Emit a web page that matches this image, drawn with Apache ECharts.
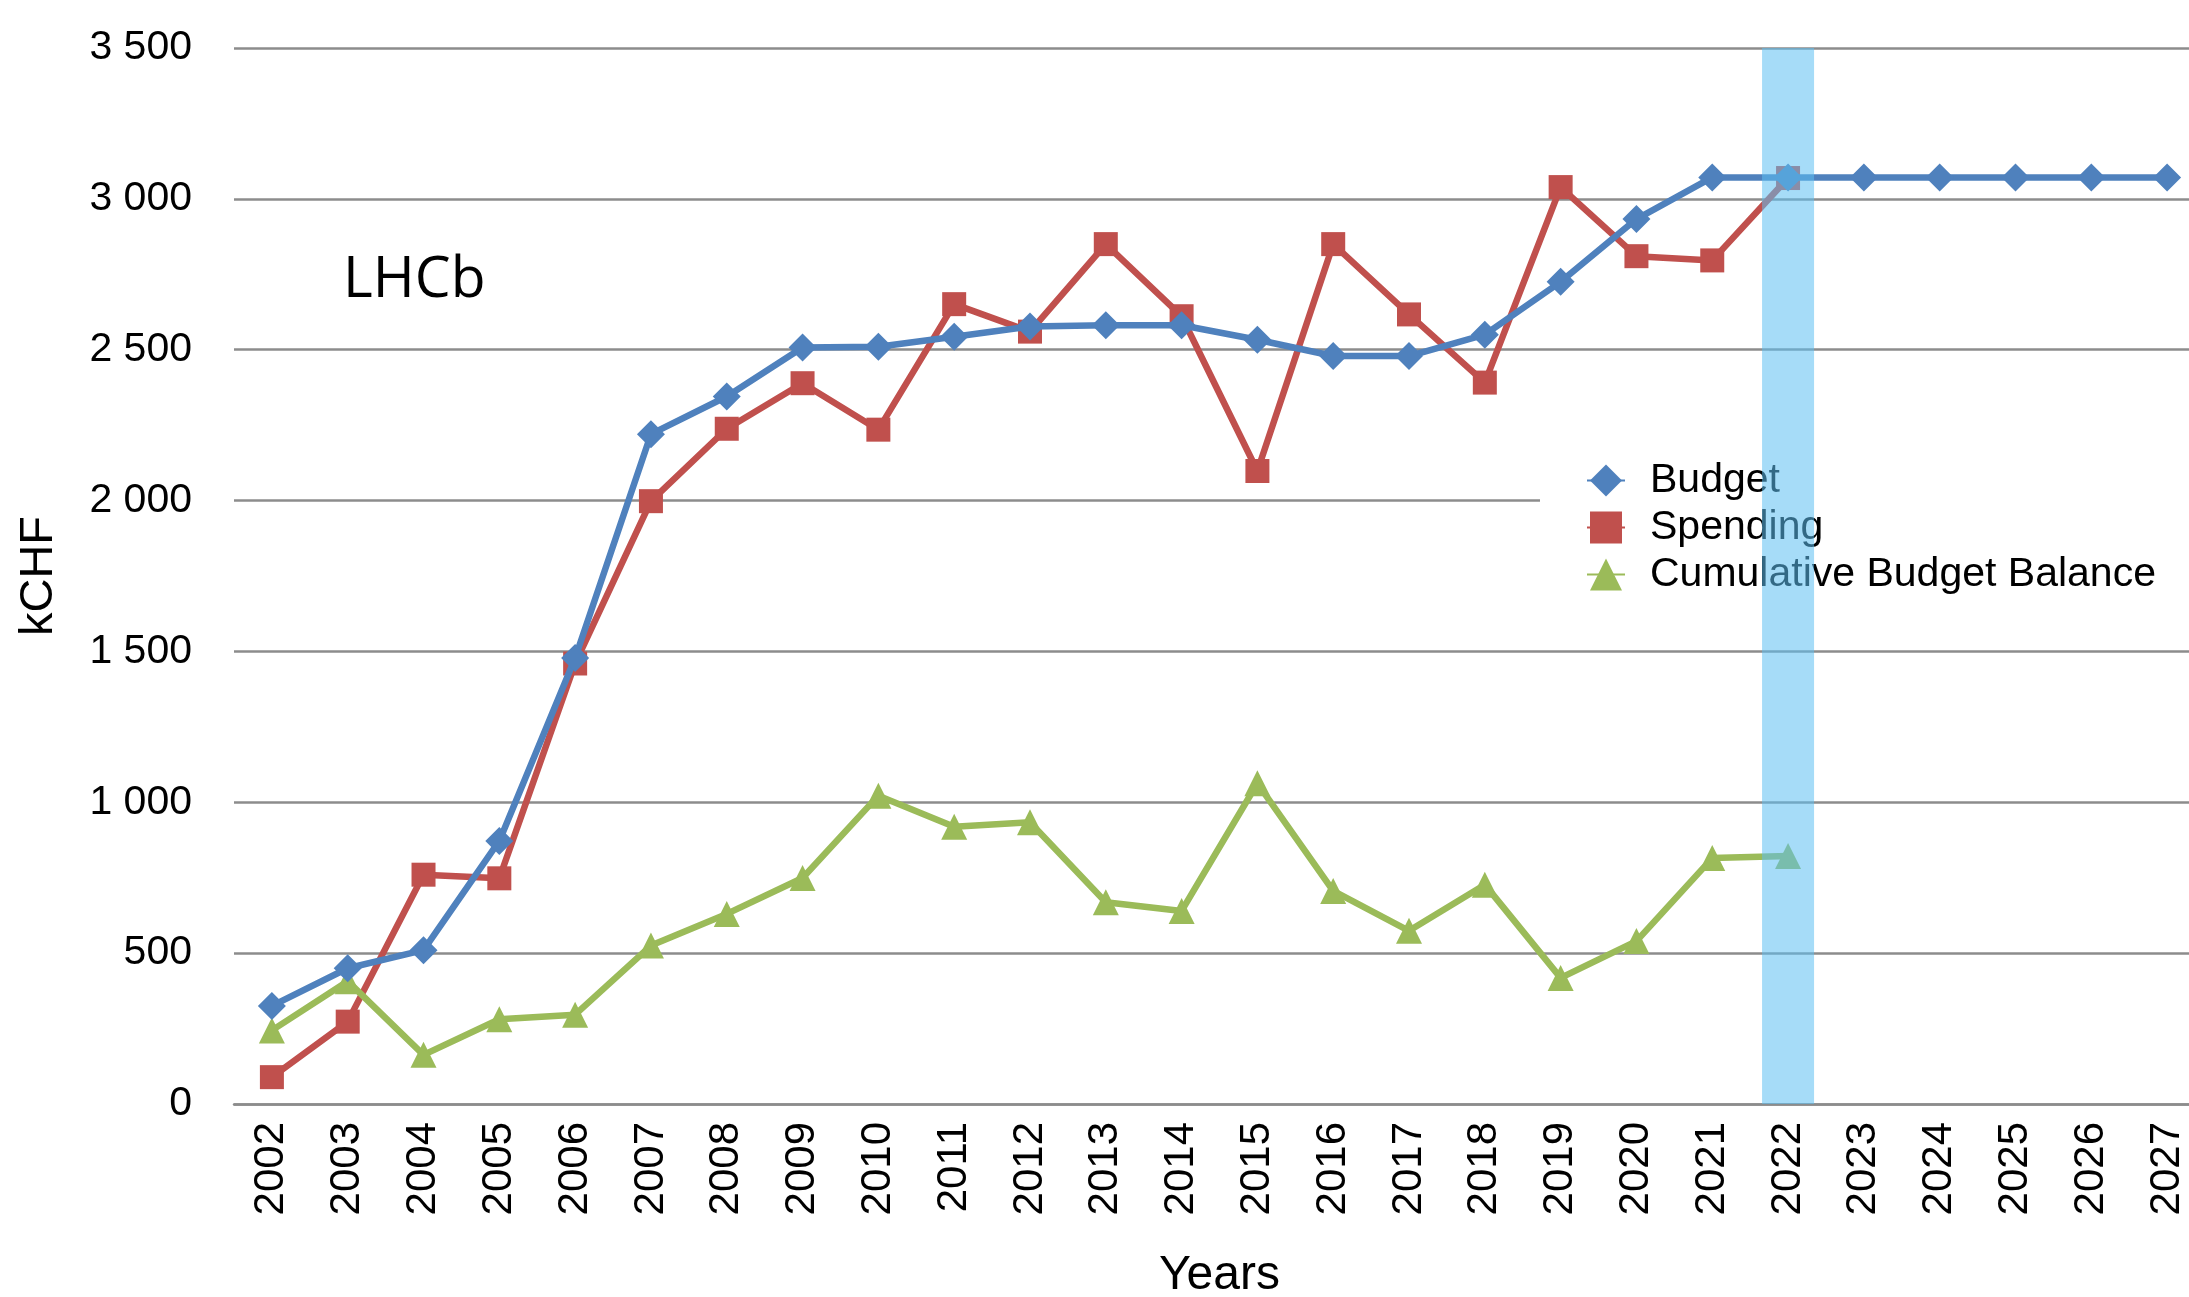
<!DOCTYPE html>
<html>
<head>
<meta charset="utf-8">
<script src="https://cdn.jsdelivr.net/npm/echarts@6/dist/echarts.min.js"></script>
<style>
html,body{margin:0;padding:0;background:#ffffff;overflow:hidden;}
#chart{width:2189px;height:1297px;}
</style>
</head>
<body>
<div id="chart"></div>
<script>
// ---- data ----
var years = ['2002','2003','2004','2005','2006','2007','2008','2009','2010','2011','2012','2013','2014','2015','2016','2017','2018','2019','2020','2021','2022','2023','2024','2025','2026','2027'];
var budget = [325, 450, 510, 872, 1478, 2220, 2345, 2507, 2510, 2543, 2577, 2581, 2581, 2533, 2479, 2479, 2550, 2725, 2933, 3071, 3071, 3071, 3071, 3071, 3071, 3071];
var spending = [89, 273, 760, 748, 1460, 1998, 2238, 2389, 2235, 2651, 2560, 2850, 2611, 2098, 2850, 2617, 2391, 3039, 2810, 2796, 3069];
var cumulativeBalance = [244, 407, 163, 281, 296, 525, 630, 749, 1022, 919, 934, 669, 640, 1063, 706, 574, 727, 418, 540, 815, 822];
var yTicks = ['0', '500', '1 000', '1 500', '2 000', '2 500', '3 000', '3 500'];
var highlightYear = '2022';
var highlightTop = 3517;
var seriesNames = ['Budget', 'Spending', 'Cumulative Budget Balance'];

var highlightData = years.map(function (y) { return y === highlightYear ? highlightTop : null; });

var FONT = '"Liberation Sans", Arial, Helvetica, sans-serif';
var chart = echarts.init(document.getElementById('chart'), null, {renderer: 'canvas'});

chart.setOption({
  animation: false,
  backgroundColor: '#ffffff',
  textStyle: {fontFamily: FONT},
  grid: {left: 234, width: 1971, top: 48, bottom: 193, containLabel: false, outerBoundsMode: 'none'},
  xAxis: {
    type: 'category',
    data: years,
    boundaryGap: true,
    name: 'Years',
    nameLocation: 'middle',
    nameGap: 172,
    nameTextStyle: {fontSize: 48, color: '#000', fontFamily: FONT, verticalAlign: 'middle'},
    axisLine: {show: true, lineStyle: {color: '#8c8c8c', width: 2.5}},
    axisTick: {show: false},
    axisLabel: {rotate: 90, margin: 18, fontSize: 42, color: '#000', fontFamily: FONT, interval: 0},
    splitLine: {show: false}
  },
  yAxis: {
    type: 'value',
    min: 0,
    max: 3500,
    interval: 500,
    name: 'kCHF',
    nameLocation: 'middle',
    nameGap: 195,
    nameTextStyle: {fontSize: 47, color: '#000', fontFamily: FONT, verticalAlign: 'middle'},
    axisLine: {show: false},
    axisTick: {show: false},
    axisLabel: {
      margin: 42, fontSize: 41, color: '#000', fontFamily: FONT,
      formatter: function (v) { return yTicks[Math.round(v / 500)]; }
    },
    splitLine: {show: true, lineStyle: {color: '#8c8c8c', width: 2.5}}
  },
  legend: {
    data: seriesNames,
    orient: 'vertical',
    left: 1540,
    top: 448,
    padding: [12, 60, 12, 46],
    backgroundColor: '#ffffff',
    itemWidth: 38,
    itemHeight: 40,
    itemGap: 6,
    textStyle: {fontSize: 41, color: '#000', fontFamily: FONT, lineHeight: 40, padding: [0, 0, 0, 20]},
    selectedMode: false
  },
  graphic: [{
    type: 'text',
    left: 343,
    top: 252,
    style: {text: 'LHCb', fontSize: 57, fontFamily: '"Open Sans", "Noto Sans", sans-serif', fill: '#000', textVerticalAlign: 'middle'},
    z: 5
  }],
  series: [
    {
      name: seriesNames[0], type: 'line', data: budget,
      symbol: 'diamond', symbolSize: 28,
      lineStyle: {color: '#4f81bd', width: 6.5},
      itemStyle: {color: '#4f81bd'},
      z: 4
    },
    {
      name: seriesNames[1], type: 'line', data: spending,
      symbol: 'rect', symbolSize: 24,
      lineStyle: {color: '#c0504d', width: 6.5},
      itemStyle: {color: '#c0504d'},
      z: 3
    },
    {
      name: seriesNames[2], type: 'line', data: cumulativeBalance,
      symbol: 'triangle', symbolSize: 26,
      lineStyle: {color: '#9bbb59', width: 6.5},
      itemStyle: {color: '#9bbb59'},
      z: 3
    },
    {
      name: 'highlight', type: 'bar', data: highlightData,
      barWidth: 52,
      itemStyle: {color: 'rgba(93,191,242,0.55)'},
      silent: true,
      z: 10
    }
  ]
});
</script>
</body>
</html>
